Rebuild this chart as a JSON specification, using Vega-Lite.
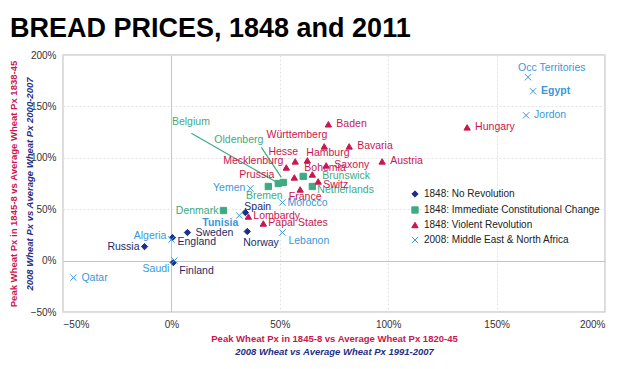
{
  "$schema": "https://vega.github.io/schema/vega-lite/v6.json",
  "width": 542,
  "height": 257,
  "autosize": {"type": "none"},
  "padding": {"left": 63, "top": 55, "right": 23, "bottom": 57},
  "background": "white",
  "title": {"text": "BREAD PRICES, 1848 and 2011", "anchor": "start", "frame": "group", "dx": -53, "dy": 24, "font": "Liberation Sans", "fontSize": 27, "fontWeight": "bold", "color": "#000000", "offset": 10, "baseline": "alphabetic"},
  "config": {
    "view": {"stroke": "#cfcfcf", "strokeWidth": 1.5},
    "font": "Liberation Sans",
    "axis": {"labelFont": "Liberation Sans", "labelFontSize": 10, "labelColor": "#333333", "titleFont": "Liberation Sans", "titleFontSize": 9.5, "titleFontWeight": "bold"},
    "text": {"font": "Liberation Sans", "fontSize": 10.5, "baseline": "middle"}
  },
  "datasets": {
    "pts": [
      {"name": "Russia", "group": "1848: No Revolution", "x": -0.124, "y": 0.136},
      {"name": "England", "group": "1848: No Revolution", "x": 0.005, "y": 0.224},
      {"name": "Sweden", "group": "1848: No Revolution", "x": 0.074, "y": 0.273},
      {"name": "Norway", "group": "1848: No Revolution", "x": 0.350, "y": 0.283},
      {"name": "Finland", "group": "1848: No Revolution", "x": 0.009, "y": -0.019},
      {"name": "Spain", "group": "1848: No Revolution", "x": 0.341, "y": 0.468},
      {"name": "Denmark", "group": "1848: Immediate Constitutional Change", "x": 0.240, "y": 0.487},
      {"name": "Bremen", "group": "1848: Immediate Constitutional Change", "x": 0.447, "y": 0.721},
      {"name": "Belgium", "group": "1848: Immediate Constitutional Change", "x": 0.493, "y": 0.750},
      {"name": "Oldenberg", "group": "1848: Immediate Constitutional Change", "x": 0.516, "y": 0.760},
      {"name": "Brunswick", "group": "1848: Immediate Constitutional Change", "x": 0.608, "y": 0.819},
      {"name": "Netherlands", "group": "1848: Immediate Constitutional Change", "x": 0.650, "y": 0.721},
      {"name": "Baden", "group": "1848: Violent Revolution", "x": 0.724, "y": 1.326},
      {"name": "Württemberg", "group": "1848: Violent Revolution", "x": 0.705, "y": 1.111},
      {"name": "Bavaria", "group": "1848: Violent Revolution", "x": 0.820, "y": 1.111},
      {"name": "Austria", "group": "1848: Violent Revolution", "x": 0.972, "y": 0.965},
      {"name": "Hesse", "group": "1848: Violent Revolution", "x": 0.571, "y": 0.965},
      {"name": "Hamburg", "group": "1848: Violent Revolution", "x": 0.627, "y": 0.975},
      {"name": "Saxony", "group": "1848: Violent Revolution", "x": 0.714, "y": 0.926},
      {"name": "Mecklenburg", "group": "1848: Violent Revolution", "x": 0.530, "y": 0.906},
      {"name": "Prussia", "group": "1848: Violent Revolution", "x": 0.567, "y": 0.809},
      {"name": "Bohemia", "group": "1848: Violent Revolution", "x": 0.650, "y": 0.838},
      {"name": "Switz", "group": "1848: Violent Revolution", "x": 0.677, "y": 0.770},
      {"name": "France", "group": "1848: Violent Revolution", "x": 0.594, "y": 0.692},
      {"name": "Lombardy", "group": "1848: Violent Revolution", "x": 0.355, "y": 0.429},
      {"name": "Papal States", "group": "1848: Violent Revolution", "x": 0.424, "y": 0.361},
      {"name": "Hungary", "group": "1848: Violent Revolution", "x": 1.364, "y": 1.296},
      {"name": "Occ Territories", "group": "2008: Middle East & North Africa", "x": 1.645, "y": 1.784},
      {"name": "Egypt", "group": "2008: Middle East & North Africa", "x": 1.668, "y": 1.647},
      {"name": "Jordon", "group": "2008: Middle East & North Africa", "x": 1.636, "y": 1.413},
      {"name": "Yemen", "group": "2008: Middle East & North Africa", "x": 0.364, "y": 0.702},
      {"name": "Morocco", "group": "2008: Middle East & North Africa", "x": 0.512, "y": 0.565},
      {"name": "Tunisia", "group": "2008: Middle East & North Africa", "x": 0.313, "y": 0.439},
      {"name": "Lebanon", "group": "2008: Middle East & North Africa", "x": 0.512, "y": 0.273},
      {"name": "Algeria", "group": "2008: Middle East & North Africa", "x": 0.0, "y": 0.205},
      {"name": "Saudi", "group": "2008: Middle East & North Africa", "x": 0.014, "y": 0.0},
      {"name": "Qatar", "group": "2008: Middle East & North Africa", "x": -0.452, "y": -0.166}
    ],
    "leaderLines": [
      {"name": "Belgium", "x": 0.092, "y": 1.238, "x2": 0.488, "y2": 0.760},
      {"name": "Oldenberg", "x": 0.415, "y": 1.101, "x2": 0.507, "y2": 0.809}
    ],
    "leaderLabels": [
      {"name": "Belgium", "x": 0.090, "y": 1.345},
      {"name": "Oldenberg", "x": 0.311, "y": 1.170}
    ]
  },
  "data": {"name": "pts"},
  "resolve": {"axis": {"x": "independent", "y": "independent"}},
  "layer": [
    {
      "encoding": {
        "x": {"field": "x", "type": "quantitative",
          "scale": {"domain": [-0.5, 2], "nice": false, "zero": false},
          "axis": {"orient": "bottom", "format": ".0%", "values": [-0.5, 0, 0.5, 1, 1.5, 2], "title": "Peak Wheat Px in 1845-8 vs Average Wheat Px 1820-45", "titleColor": "#C8174F", "titlePadding": 4, "labelPadding": 7, "ticks": false, "domain": false, "grid": true,
            "gridColor": {"condition": {"test": "datum.value === 0", "value": "#c4c4c4"}, "value": "#e2e2e2"},
            "gridDash": {"condition": {"test": "datum.value === 0", "value": []}, "value": [2, 2]}}},
        "y": {"field": "y", "type": "quantitative",
          "scale": {"domain": [-0.5, 2], "nice": false, "zero": false},
          "axis": {"orient": "left", "format": ".0%", "values": [-0.5, 0, 0.5, 1, 1.5, 2], "title": "Peak Wheat Px in 1845-8 vs Average Wheat Px 1838-45", "titleColor": "#C8174F", "titlePadding": 12, "labelPadding": 7, "ticks": false, "domain": false, "grid": true,
            "gridColor": {"condition": {"test": "datum.value === 0", "value": "#c4c4c4"}, "value": "#e2e2e2"},
            "gridDash": {"condition": {"test": "datum.value === 0", "value": []}, "value": [2, 2]}}}
      },
      "layer": [
        {
          "data": {"name": "leaderLines"},
          "mark": {"type": "rule", "color": "#3EAA82", "strokeWidth": 1.2},
          "encoding": {"x2": {"field": "x2"}, "y2": {"field": "y2"}}
        },
        {
          "mark": {"type": "point", "filled": true, "size": 40, "strokeWidth": 1, "opacity": 1},
          "encoding": {
            "fill": {"field": "group", "type": "nominal",
              "scale": {"domain": ["1848: No Revolution", "1848: Immediate Constitutional Change", "1848: Violent Revolution", "2008: Middle East & North Africa"], "range": ["#1F2F86", "#3EAA82", "#C8174F", "#3A98DA"]},
              "legend": {"title": null, "orient": "none", "legendX": 347, "legendY": 134, "labelFontSize": 10, "labelColor": "#222222", "labelFont": "Liberation Sans", "labelLimit": 400, "symbolSize": 40, "rowPadding": 4, "symbolStrokeWidth": 1}},
            "stroke": {"field": "group", "type": "nominal",
              "scale": {"domain": ["1848: No Revolution", "1848: Immediate Constitutional Change", "1848: Violent Revolution", "2008: Middle East & North Africa"], "range": ["#1F2F86", "#3EAA82", "#C8174F", "#3A98DA"]},
              "legend": {"title": null, "orient": "none", "legendX": 347, "legendY": 134, "labelFontSize": 10, "labelColor": "#222222", "labelFont": "Liberation Sans", "labelLimit": 400, "symbolSize": 40, "rowPadding": 4, "symbolStrokeWidth": 1}},
            "shape": {"field": "group", "type": "nominal",
              "scale": {"domain": ["1848: No Revolution", "1848: Immediate Constitutional Change", "1848: Violent Revolution", "2008: Middle East & North Africa"], "range": ["diamond", "square", "triangle-up", "M-1,-1L1,1M-1,1L1,-1"]},
              "legend": {"title": null, "orient": "none", "legendX": 347, "legendY": 134, "labelFontSize": 10, "labelColor": "#222222", "labelFont": "Liberation Sans", "labelLimit": 400, "symbolSize": 40, "rowPadding": 4, "symbolStrokeWidth": 1}}
          }
        },
        {
          "data": {"name": "leaderLabels"},
          "mark": {"type": "text", "align": "center", "color": "#3EAA82"},
          "encoding": {"text": {"field": "name"}}
        },
        {
          "encoding": {
            "text": {"field": "name"},
            "color": {"field": "group", "type": "nominal",
              "scale": {"domain": ["1848: No Revolution", "1848: Immediate Constitutional Change", "1848: Violent Revolution", "2008: Middle East & North Africa"], "range": ["#1E2A6A", "#3EAA82", "#C8174F", "#3A98DA"]},
              "legend": null}
          },
          "layer": [
            {"transform": [{"filter": {"field": "name", "oneOf": ["Sweden", "Qatar", "Saxony", "Baden", "Bavaria", "Austria", "Hungary", "Jordon"]}}], "mark": {"type": "text", "align": "left", "dx": 8, "dy": 0}},
            {"transform": [{"filter": {"field": "name", "oneOf": ["Egypt"]}}], "mark": {"type": "text", "align": "left", "dx": 8, "dy": 0, "fontWeight": "bold"}},
            {"transform": [{"filter": {"field": "name", "oneOf": ["Lombardy", "Papal States", "Morocco"]}}], "mark": {"type": "text", "align": "left", "dx": 5, "dy": 0}},
            {"transform": [{"filter": {"field": "name", "oneOf": ["Russia", "Yemen", "Denmark"]}}], "mark": {"type": "text", "align": "right", "dx": -5, "dy": 0}},
            {"transform": [{"filter": {"field": "name", "oneOf": ["England", "Switz", "Netherlands"]}}], "mark": {"type": "text", "align": "left", "dx": 5, "dy": 4}},
            {"transform": [{"filter": {"field": "name", "oneOf": ["Algeria"]}}], "mark": {"type": "text", "align": "right", "dx": -5, "dy": -4}},
            {"transform": [{"filter": {"field": "name", "oneOf": ["Norway"]}}], "mark": {"type": "text", "align": "left", "dx": -4, "dy": 11}},
            {"transform": [{"filter": {"field": "name", "oneOf": ["Finland", "Lebanon"]}}], "mark": {"type": "text", "align": "left", "dx": 6, "dy": 8}},
            {"transform": [{"filter": {"field": "name", "oneOf": ["Saudi"]}}], "mark": {"type": "text", "align": "right", "dx": -5, "dy": 8}},
            {"transform": [{"filter": {"field": "name", "oneOf": ["Spain"]}}], "mark": {"type": "text", "align": "left", "dx": -1, "dy": -5}},
            {"transform": [{"filter": {"field": "name", "oneOf": ["Tunisia"]}}], "mark": {"type": "text", "align": "right", "dx": -1, "dy": 8, "fontWeight": "bold"}},
            {"transform": [{"filter": {"field": "name", "oneOf": ["Bremen"]}}], "mark": {"type": "text", "align": "center", "dx": -4, "dy": 10}},
            {"transform": [{"filter": {"field": "name", "oneOf": ["France"]}}], "mark": {"type": "text", "align": "center", "dx": 5, "dy": 8}},
            {"transform": [{"filter": {"field": "name", "oneOf": ["Brunswick"]}}], "mark": {"type": "text", "align": "left", "dx": 19, "dy": 0}},
            {"transform": [{"filter": {"field": "name", "oneOf": ["Bohemia"]}}], "mark": {"type": "text", "align": "left", "dx": -8, "dy": -6}},
            {"transform": [{"filter": {"field": "name", "oneOf": ["Hesse"]}}], "mark": {"type": "text", "align": "right", "dx": 3, "dy": -9}},
            {"transform": [{"filter": {"field": "name", "oneOf": ["Hamburg"]}}], "mark": {"type": "text", "align": "left", "dx": -1, "dy": -7}},
            {"transform": [{"filter": {"field": "name", "oneOf": ["Württemberg"]}}], "mark": {"type": "text", "align": "right", "dx": 3, "dy": -11}},
            {"transform": [{"filter": {"field": "name", "oneOf": ["Mecklenburg"]}}], "mark": {"type": "text", "align": "right", "dx": -3, "dy": -6}},
            {"transform": [{"filter": {"field": "name", "oneOf": ["Prussia"]}}], "mark": {"type": "text", "align": "right", "dx": -20, "dy": -2}},
            {"transform": [{"filter": {"field": "name", "oneOf": ["Occ Territories"]}}], "mark": {"type": "text", "align": "left", "dx": -10, "dy": -9}}
          ]
        }
      ]
    },
    {
      "mark": {"type": "point", "opacity": 0},
      "encoding": {
        "x": {"field": "x", "type": "quantitative",
          "axis": {"orient": "bottom", "labels": false, "ticks": false, "domain": false, "grid": false, "title": "2008 Wheat vs Average Wheat Px 1991-2007", "titleColor": "#1F2F86", "titleFontStyle": "italic", "titlePadding": 34}},
        "y": {"field": "y", "type": "quantitative",
          "axis": {"orient": "left", "labels": false, "ticks": false, "domain": false, "grid": false, "title": "2008 Wheat Px vs Average Wheat Px 2000-2007", "titleColor": "#1F2F86", "titleFontStyle": "italic", "titlePadding": 29}}
      }
    }
  ]
}
